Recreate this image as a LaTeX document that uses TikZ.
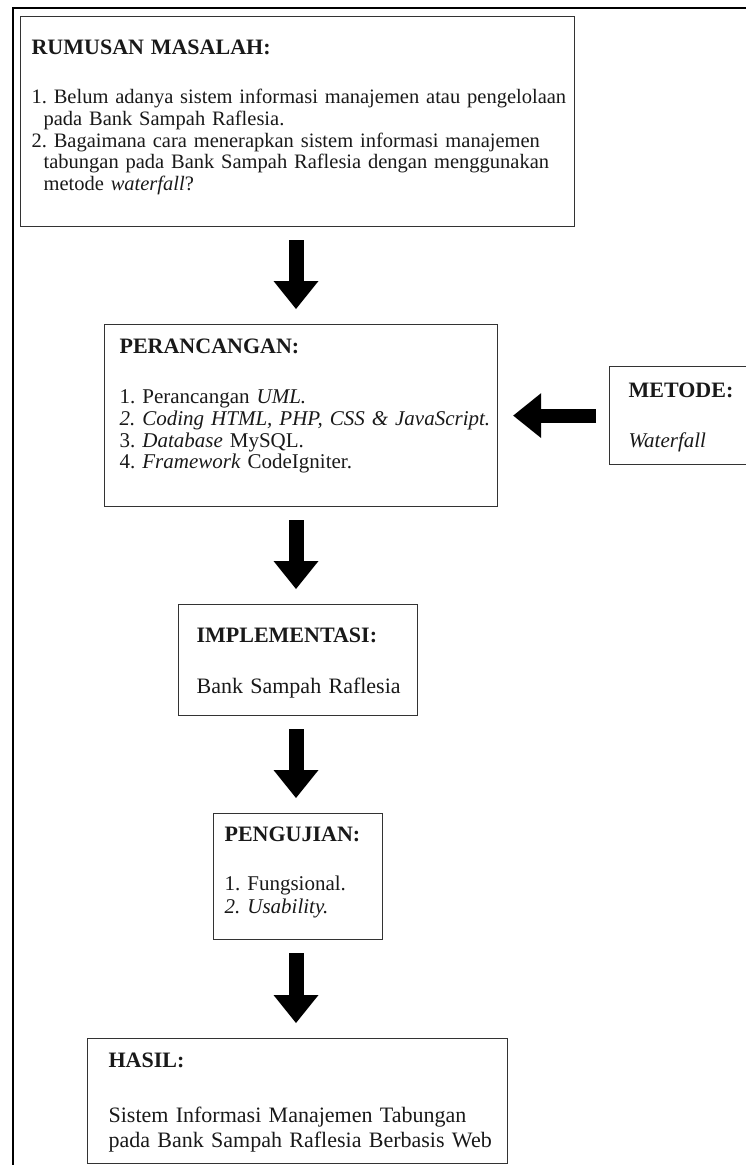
\documentclass[tikz,border=0pt]{standalone}
\usepackage{fontspec}
\setmainfont{Liberation Serif}
\usetikzlibrary{arrows.meta,positioning}
\newcommand{\judul}[1]{{\fontsize{22}{22}\selectfont\bfseries #1}}
\frenchspacing
\begin{document}
\begin{tikzpicture}[x=1pt,y=-1pt]
\tikzstyle{kotak}=[draw=black!80,line width=1.2pt,anchor=north west,inner ysep=0pt,text=black!90,font=\fontsize{21}{22}\selectfont,execute at begin node={\rightskip=0pt minus 80pt\relax}]
\tikzstyle{panah}=[line width=15pt,-{Triangle[width=45pt,length=28pt,line width=0pt]}]
\tikzstyle{bingkai}=[line width=2.5pt]
\useasboundingbox (0,0) rectangle (746,1165);
\clip (0,0) rectangle (746,1165);
\draw[bingkai] (13,1190) |- (780,8);
\coordinate (p1) at (20,16);
\coordinate (p2) at (104,324);
\coordinate (p3) at (609,366);
\coordinate (p4) at (178,604);
\coordinate (p5) at (213,813);
\coordinate (p6) at (87,1038);
\coordinate (poros) at (296,0);
\node[kotak,inner xsep=11pt,text width=532pt,text height=38pt,text depth=172pt,font=\fontsize{20.5}{21.7}\selectfont] (rumusan) at (p1) {\judul{RUMUSAN MASALAH:}\\[27.3pt]
1. Belum adanya sistem informasi manajemen atau pengelolaan\\
\hspace*{12pt}pada Bank Sampah Raflesia.\\
2. Bagaimana cara menerapkan sistem informasi manajemen\\
\hspace*{12pt}tabungan pada Bank Sampah Raflesia dengan menggunakan\\
\hspace*{12pt}metode \textit{waterfall}?};
\node[kotak,inner xsep=15pt,text width=363pt,text height=29pt,text depth=153pt,font=\fontsize{21}{21.7}\selectfont] (perancangan) at (p2) {\judul{PERANCANGAN:}\\[28.3pt]
1. Perancangan \textit{UML.}\\
\textit{2. Coding HTML, PHP, CSS \& JavaScript.}\\
3. \textit{Database} MySQL.\\
4. \textit{Framework} CodeIgniter.};
\node[kotak,inner xsep=19pt,text width=200pt,text height=31pt,text depth=67pt] (metode) at (p3) {\judul{METODE:}\\[28pt]
\textit{Waterfall}};
\node[kotak,inner xsep=18pt,text width=203pt,text height=38pt,text depth=73pt,font=\fontsize{22}{22}\selectfont] (implementasi) at (p4) {\judul{IMPLEMENTASI:}\\[29pt]
Bank Sampah Raflesia};
\node[kotak,inner xsep=11pt,text width=147pt,text height=28pt,text depth=98pt,font=\fontsize{21}{23}\selectfont] (pengujian) at (p5) {\judul{PENGUJIAN:}\\[26pt]
1. Fungsional.\\
\textit{2. Usability.}};
\node[kotak,inner xsep=21pt,text width=378pt,text height=29pt,text depth=96pt,font=\fontsize{22}{25}\selectfont] (hasil) at (p6) {\judul{HASIL:}\\[30pt]
Sistem Informasi Manajemen Tabungan\\
pada Bank Sampah Raflesia Berbasis Web};
\foreach \dari/\ke in {rumusan/perancangan,perancangan/implementasi,implementasi/pengujian,pengujian/hasil}
  \draw[panah,shorten <=13pt,shorten >=15pt] (\dari.south -| poros) -- (\ke.north -| poros);
\draw[panah,line width=14pt,shorten <=13pt,shorten >=15pt] (metode.west) -- (perancangan.east);
\end{tikzpicture}
\end{document}
